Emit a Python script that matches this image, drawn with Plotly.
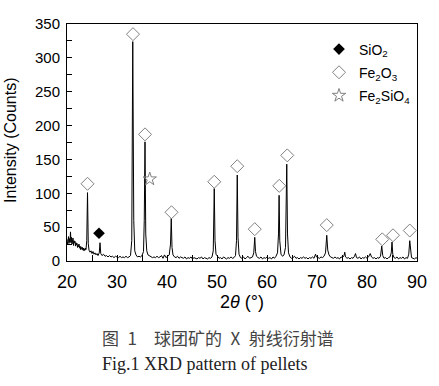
import plotly.graph_objects as go

# ---- XRD pattern (2theta in degrees, intensity in counts) ----
two_theta = [
    20.0, 20.1, 20.2, 20.3, 20.4, 20.5, 20.6, 20.7, 20.8, 20.9, 21.0, 21.1, 21.2, 21.3, 21.4, 21.5,
    21.6, 21.7, 21.8, 21.9, 22.0, 22.1, 22.2, 22.3, 22.4, 22.5, 22.6, 22.7, 22.8, 22.9, 23.0, 23.1,
    23.2, 23.3, 23.4, 23.5, 23.6, 23.7, 23.8, 23.95, 24.1, 24.25, 24.4, 24.6, 24.8, 25.0, 25.2, 25.4,
    25.6, 25.8, 26.0, 26.2, 26.45, 26.6, 26.75, 27.0, 27.3, 27.6, 27.9, 28.2, 28.5, 28.8, 29.1, 29.4,
    29.7, 30.0, 30.3, 30.6, 30.9, 31.2, 31.5, 31.8, 32.1, 32.4, 32.7, 32.95, 33.15, 33.35, 33.55, 33.8,
    34.1, 34.4, 34.7, 35.0, 35.3, 35.45, 35.6, 35.75, 35.95, 36.2, 36.5, 36.8, 37.1, 37.4, 37.7, 38.0,
    38.3, 38.6, 38.9, 39.2, 39.5, 39.8, 40.1, 40.45, 40.7, 40.85, 41.0, 41.2, 41.5, 41.8, 42.1, 42.4,
    42.7, 43.0, 43.3, 43.6, 43.9, 44.2, 44.5, 44.8, 45.1, 45.4, 45.7, 46.0, 46.3, 46.6, 46.9, 47.2,
    47.5, 47.8, 48.1, 48.4, 48.7, 49.0, 49.25, 49.45, 49.6, 49.8, 50.1, 50.4, 50.7, 51.0, 51.3, 51.6,
    51.9, 52.2, 52.5, 52.8, 53.1, 53.4, 53.7, 53.9, 54.05, 54.2, 54.4, 54.7, 55.0, 55.3, 55.6, 55.9,
    56.2, 56.5, 56.8, 57.1, 57.35, 57.55, 57.7, 57.9, 58.2, 58.5, 58.8, 59.1, 59.4, 59.7, 60.0, 60.3,
    60.6, 60.9, 61.2, 61.5, 61.8, 62.1, 62.3, 62.42, 62.55, 62.8, 63.1, 63.4, 63.7, 63.95, 64.1, 64.3,
    64.6, 64.9, 65.2, 65.5, 65.8, 66.1, 66.4, 66.7, 67.0, 67.3, 67.6, 67.9, 68.2, 68.5, 68.8, 69.1,
    69.4, 69.7, 69.9, 70.2, 70.5, 70.8, 71.1, 71.4, 71.7, 71.95, 72.15, 72.4, 72.7, 73.0, 73.3, 73.6,
    73.9, 74.2, 74.5, 74.8, 75.1, 75.4, 75.55, 75.7, 76.0, 76.3, 76.6, 76.9, 77.2, 77.5, 77.7, 77.9,
    78.2, 78.5, 78.8, 79.1, 79.4, 79.7, 80.0, 80.3, 80.65, 80.9, 81.2, 81.5, 81.8, 82.1, 82.4, 82.7,
    82.95, 83.15, 83.4, 83.7, 84.0, 84.3, 84.6, 84.85, 85.0, 85.15, 85.4, 85.7, 86.0, 86.3, 86.6, 86.9,
    87.2, 87.5, 87.8, 88.1, 88.35, 88.55, 88.7, 88.9, 89.2, 89.5, 89.8, 90.0,
]
counts = [
    32, 24, 29, 36, 26, 33, 28, 43, 27, 35, 25, 31, 34, 23, 30, 27,
    29, 22, 27, 24, 26, 20, 24, 21, 25, 19, 22, 17, 21, 18, 17, 20,
    16, 19, 15, 18, 16, 19, 17, 30, 101, 26, 16, 13, 15, 11, 14, 10,
    12, 9, 11, 8, 12, 27, 11, 8, 10, 7, 8, 6, 8, 6, 7, 5,
    7, 6, 5, 7, 5, 6, 5, 7, 5, 6, 8, 30, 324, 60, 15, 9,
    6, 7, 6, 8, 14, 60, 176, 40, 15, 9, 8, 6, 5, 6, 5, 7,
    5, 6, 8, 4, 9, 5, 7, 9, 25, 63, 20, 9, 6, 5, 7, 4,
    6, 5, 4, 6, 3, 5, 4, 6, 3, 5, 4, 3, 5, 4, 6, 3,
    5, 4, 3, 5, 4, 6, 15, 107, 30, 10, 6, 4, 5, 3, 6, 4,
    3, 5, 4, 6, 4, 5, 8, 30, 127, 35, 10, 5, 4, 6, 3, 5,
    7, 4, 5, 6, 12, 35, 14, 7, 5, 4, 6, 3, 5, 4, 6, 4,
    5, 3, 6, 4, 7, 12, 40, 97, 30, 10, 7, 9, 20, 143, 40, 12,
    6, 4, 5, 7, 4, 5, 3, 5, 4, 6, 4, 5, 3, 5, 4, 6,
    4, 10, 6, 5, 4, 6, 5, 7, 12, 38, 16, 9, 6, 5, 4, 6,
    4, 5, 3, 6, 5, 8, 13, 6, 4, 5, 3, 5, 4, 7, 11, 5,
    4, 6, 3, 5, 4, 6, 4, 6, 11, 6, 4, 5, 3, 5, 4, 7,
    22, 8, 4, 5, 3, 5, 6, 12, 28, 10, 5, 4, 6, 3, 5, 4,
    6, 3, 5, 4, 10, 30, 12, 5, 4, 3, 5, 4,
]

# ---- phase markers ----
fe2o3_x = [24.1, 33.2, 35.6, 40.9, 49.45, 54.05, 57.55, 62.45, 64.05, 71.95, 83.05, 85.2, 88.55]
fe2o3_y = [114, 335, 187, 72, 117, 140, 47, 111, 156, 53, 32, 38, 45]
sio2_x = [26.4]
sio2_y = [41]
fe2sio4_x = [36.55]
fe2sio4_y = [121]

x_ticks = [20, 30, 40, 50, 60, 70, 80, 90]
y_ticks = [0, 50, 100, 150, 200, 250, 300, 350]

fig = go.Figure()
fig.add_trace(go.Scatter(x=two_theta, y=counts, mode="lines",
                         line=dict(color="black", width=1), showlegend=False,
                         hoverinfo="skip"))
fig.add_trace(go.Scatter(x=sio2_x, y=sio2_y, mode="markers", name="SiO<sub>2</sub>",
                         legendgroup="a",
                         marker=dict(symbol="diamond", size=9, color="black")))
fig.add_trace(go.Scatter(x=fe2o3_x, y=fe2o3_y, mode="markers", name="Fe<sub>2</sub>O<sub>3</sub>",
                         legendgroup="b",
                         marker=dict(symbol="diamond-open", size=10, color="#808080",
                                     line=dict(width=1, color="#808080"))))
fig.add_trace(go.Scatter(x=fe2sio4_x, y=fe2sio4_y, mode="markers", name="Fe<sub>2</sub>SiO<sub>4</sub>",
                         legendgroup="c",
                         marker=dict(symbol="star-open", size=10, color="#808080",
                                     line=dict(width=1, color="#808080"))))

axis_font = "Liberation Sans, Arial, sans-serif"

fig.update_layout(
    width=439, height=386,
    margin=dict(l=67, r=17, t=24, b=125),
    paper_bgcolor="white", plot_bgcolor="white",
    font=dict(family=axis_font, color="black"),
    showlegend=True,
    legend=dict(x=0.72, y=0.96, xanchor="left", yanchor="top",
                font=dict(family=axis_font, size=14, color="black"),
                bgcolor="rgba(0,0,0,0)", traceorder="grouped", tracegroupgap=2,
                itemwidth=30),
    xaxis=dict(range=[20, 90], tickvals=x_ticks, ticktext=[str(v) for v in x_ticks],
               ticks="inside", ticklen=6, tickcolor="black", tickwidth=1,
               minor=dict(dtick=5, ticks="inside", ticklen=6, tickcolor="black"),
               showline=True, linecolor="black", linewidth=1, mirror=True,
               showgrid=False, zeroline=False,
               tickfont=dict(size=18, family=axis_font), ticklabelstandoff=4,
               title=dict(text="2<i>θ</i> (°)", font=dict(size=18, family=axis_font), standoff=4)),
    yaxis=dict(range=[0, 350], tickvals=y_ticks, ticktext=[str(v) for v in y_ticks],
               ticks="inside", ticklen=5, tickcolor="black", tickwidth=1,
               minor=dict(dtick=25, ticks="inside", ticklen=5, tickcolor="black"),
               showline=True, linecolor="black", linewidth=1, mirror=True,
               showgrid=False, zeroline=False,
               tickfont=dict(size=15, family=axis_font), ticklabelstandoff=3),
)

# y-axis title placed as a rotated annotation so it can sit at the far left like the reference
fig.add_annotation(text="Intensity (Counts)", xref="paper", yref="paper",
                   x=-0.162, y=0.508, xanchor="center", yanchor="middle", textangle=-90,
                   showarrow=False, font=dict(family=axis_font, size=16, color="black"))

fig.add_annotation(text="图\u20021\u2002\u2002球团矿的\u2002X\u2002射线衍射谱", xref="paper", yref="paper",
                   x=0.093, y=-0.385, xanchor="left", yanchor="bottom", showarrow=False,
                   font=dict(family="Noto Sans CJK SC", size=17, color="#444444"))
fig.add_annotation(text="Fig.1 XRD pattern of pellets", xref="paper", yref="paper",
                   x=0.093, y=-0.385, xanchor="left", yanchor="top", showarrow=False,
                   font=dict(family="Liberation Serif, Times New Roman, serif", size=18, color="#222222"))

fig.write_html("out.html", config={"displayModeBar": False},
               post_script="document.body.style.margin='0';")
